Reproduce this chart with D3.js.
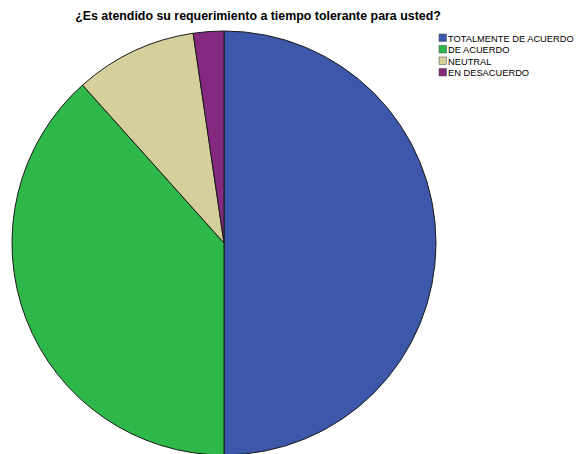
<!DOCTYPE html>
<html>
<head>
<meta charset="utf-8">
<script src="https://cdn.jsdelivr.net/npm/d3@7"></script>
<style>
  html, body { margin: 0; padding: 0; background: #ffffff; }
  svg { display: block; }
</style>
</head>
<body>
<svg id="chart" width="577" height="454"></svg>
<script>
// Response categories and counts
const categories = ["TOTALMENTE DE ACUERDO", "DE ACUERDO", "NEUTRAL", "EN DESACUERDO"];
const counts = [43, 33, 8, 2];
const colors = ["#3d58ab", "#2fb84a", "#d5cf9c", "#85287f"];
const title = "¿Es atendido su requerimiento a tiempo tolerante para usted?";

const svg = d3.select("#chart");
const cx = 224, cy = 243, radius = 212;

const color = d3.scaleOrdinal().domain(categories).range(colors);

const pie = d3.pie().sort(null).value(d => d.value);
const arc = d3.arc().innerRadius(0).outerRadius(radius);

const data = categories.map((c, i) => ({ key: c, value: counts[i] }));

svg.append("g")
  .attr("transform", `translate(${cx},${cy})`)
  .selectAll("path")
  .data(pie(data))
  .join("path")
  .attr("d", arc)
  .attr("fill", d => color(d.data.key))
  .attr("stroke", "#1a1a1a")
  .attr("stroke-width", 1)
  .attr("stroke-linejoin", "round");

// Title
svg.append("text")
  .attr("x", 258)
  .attr("y", 20)
  .attr("text-anchor", "middle")
  .attr("font-family", "Liberation Sans, Arial, sans-serif")
  .attr("font-weight", "bold")
  .attr("font-size", 12.4)
  .attr("fill", "#000")
  .text(title);

// Legend
const legend = svg.append("g").attr("transform", "translate(439,34)");
const rows = legend.selectAll("g")
  .data(categories)
  .join("g")
  .attr("transform", (d, i) => `translate(0,${i * 11.5})`);

rows.append("rect")
  .attr("width", 7.5)
  .attr("height", 7.5)
  .attr("fill", d => color(d))
  .attr("stroke", "#444")
  .attr("stroke-width", 0.5);

rows.append("text")
  .attr("x", 9)
  .attr("y", 7.5)
  .attr("font-family", "Liberation Sans, Arial, sans-serif")
  .attr("font-size", 9.3)
  .attr("fill", "#000")
  .text(d => d);
</script>
</body>
</html>
